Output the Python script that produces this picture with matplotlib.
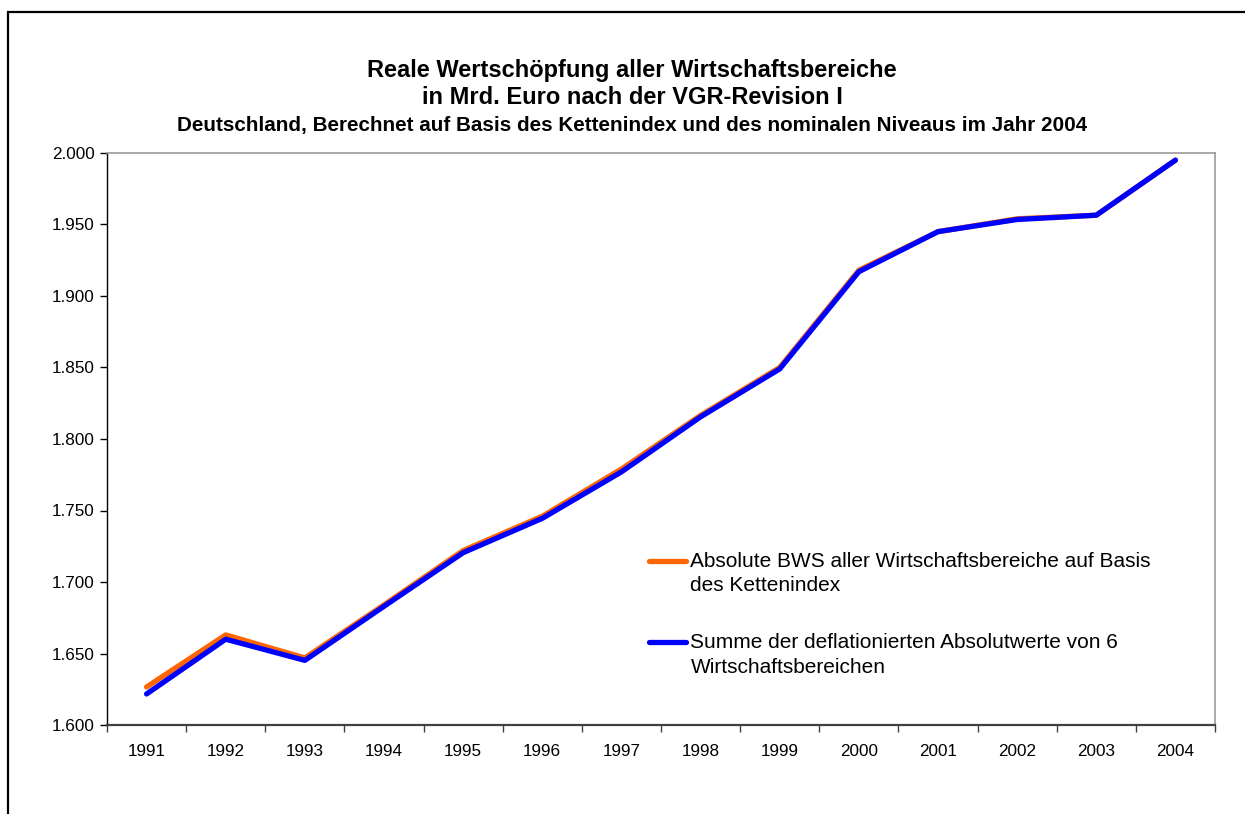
import numpy as np
import matplotlib
matplotlib.use("Agg")
import matplotlib.pyplot as plt
from matplotlib.ticker import FuncFormatter, FixedLocator
from matplotlib.legend_handler import HandlerLine2D
from matplotlib.patches import Rectangle

plt.rcParams['font.family'] = ['Liberation Sans', 'DejaVu Sans']

years = ["1991", "1992", "1993", "1994", "1995", "1996", "1997", "1998", "1999",
         "2000", "2001", "2002", "2003", "2004"]
bws_kettenindex = [1626.6, 1663.0, 1646.9, 1684.0, 1722.0, 1746.0, 1779.0, 1816.5,
                   1850.0, 1918.0, 1945.0, 1954.0, 1956.5, 1995.0]
summe_deflationiert = [1621.7, 1660.0, 1645.2, 1683.0, 1720.5, 1744.5, 1777.0, 1815.5,
                       1849.0, 1917.0, 1945.0, 1953.5, 1956.5, 1995.0]
label_orange = "Absolute BWS aller Wirtschaftsbereiche auf Basis\ndes Kettenindex"
label_blue = "Summe der deflationierten Absolutwerte von 6\nWirtschaftsbereichen"
title_lines = ["Reale Wertschöpfung aller Wirtschaftsbereiche",
               "in Mrd. Euro nach der VGR-Revision I"]
subtitle = "Deutschland, Berechnet auf Basis des Kettenindex und des nominalen Niveaus im Jahr 2004"

W, H = 1245, 814
fig = plt.figure(figsize=(W / 100, H / 100), dpi=100)
fig.patch.set_facecolor("white")

# outer frame (only top and left visible in the reference)
fig.add_artist(Rectangle((8 / W, -0.2), 1.5, (1 - 12 / H) + 0.2, transform=fig.transFigure,
                         fill=False, edgecolor="black", linewidth=1.6))

ax = fig.add_axes([107 / W, 1 - 725 / H, (1215 - 107) / W, (725 - 153) / H])
x = np.arange(len(years))
ax.plot(x, bws_kettenindex, color="#FF6600", linewidth=3.8, solid_capstyle="round",
        solid_joinstyle="round", label=label_orange, zorder=3)
ax.plot(x, summe_deflationiert, color="#0000FF", linewidth=3.8, solid_capstyle="round",
        solid_joinstyle="round", label=label_blue, zorder=4)

ax.set_xlim(-0.5, len(years) - 0.5)
ax.set_ylim(1600, 2000)
ax.set_yticks(np.arange(1600, 2001, 50))
ax.yaxis.set_major_formatter(FuncFormatter(lambda v, p: f"{v:,.0f}".replace(",", ".")))
ax.set_xticks(x)
ax.set_xticklabels(years)
ax.xaxis.set_minor_locator(FixedLocator(np.arange(-0.5, len(years), 1.0)))
ax.tick_params(axis="x", which="major", length=0, pad=14, labelsize=12.3)
ax.tick_params(axis="x", which="minor", length=5, width=1, color="#404040", direction="out")
ax.tick_params(axis="y", which="major", length=5, width=1, pad=4, labelsize=12.3, direction="out")

ax.spines["left"].set_color("black")
ax.spines["left"].set_linewidth(1.0)
ax.spines["bottom"].set_color("#404040")
ax.spines["bottom"].set_linewidth(1.6)
for s in ("top", "right"):
    ax.spines[s].set_color("#999999")
    ax.spines[s].set_linewidth(1.2)

LEG_FS = 15


class TopLineHandler(HandlerLine2D):
    def create_artists(self, legend, orig_handle, xdescent, ydescent, width, height,
                       fontsize, trans):
        arts = super().create_artists(legend, orig_handle, xdescent, ydescent, width,
                                      height, fontsize, trans)
        for a in arts:
            a.set_ydata(np.asarray(a.get_ydata(), dtype=float) + fontsize * 0.62)
            a.set_solid_capstyle("round")
        return arts


leg = ax.legend(loc="upper left", bbox_to_anchor=(0.489, 0.303), frameon=False,
                fontsize=LEG_FS, handlelength=1.8, handletextpad=0.2, labelspacing=1.85,
                borderaxespad=0, borderpad=0,
                handler_map={matplotlib.lines.Line2D: TopLineHandler()})
for t in leg.get_texts():
    t.set_linespacing(1.35)

TX = 632 / W
fig.text(TX, 1 - 70 / H, title_lines[0], ha="center", va="center", fontsize=17,
         fontweight="bold")
fig.text(TX, 1 - 98 / H, title_lines[1], ha="center", va="center", fontsize=17,
         fontweight="bold")
fig.text(TX, 1 - 125 / H, subtitle, ha="center", va="center", fontsize=14.85,
         fontweight="bold")

fig.savefig("out.png", dpi=100, facecolor="white")
